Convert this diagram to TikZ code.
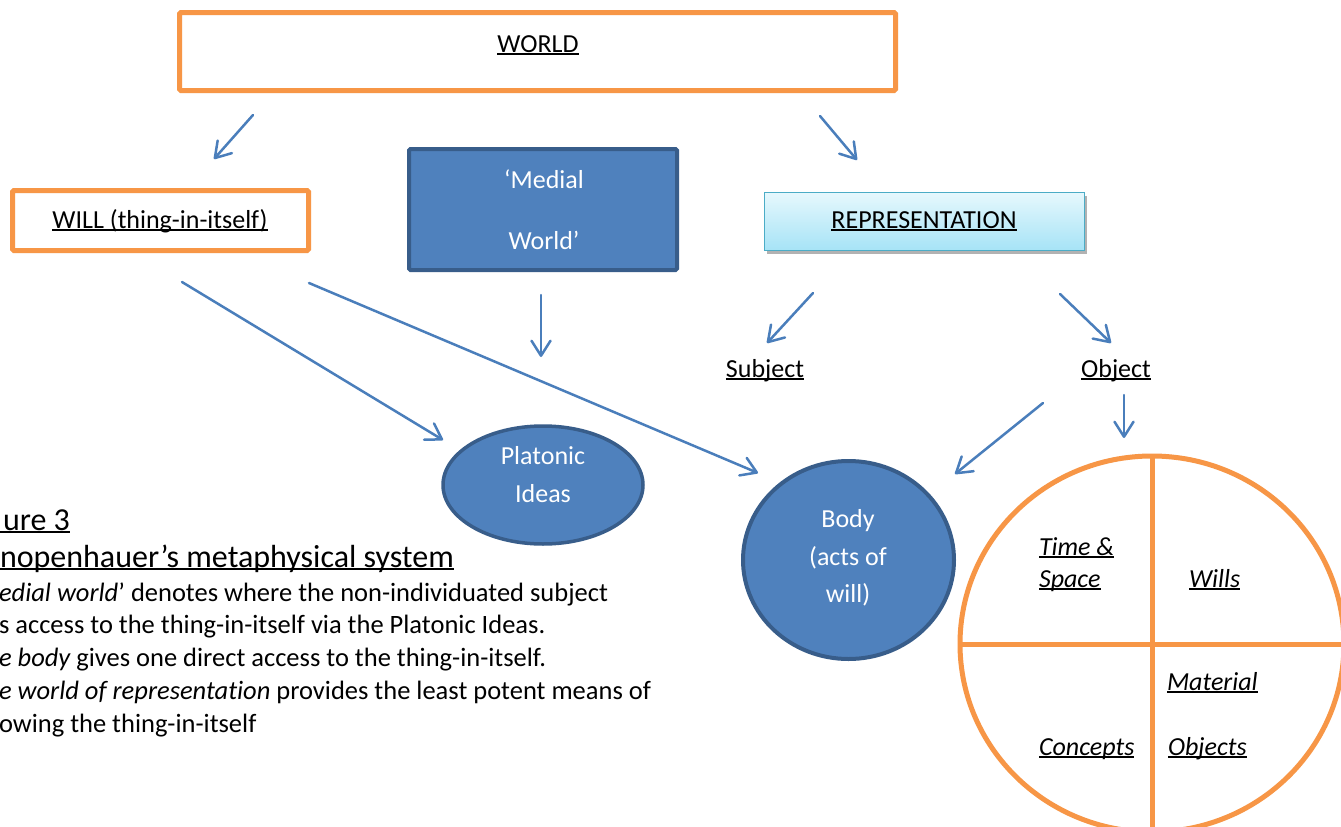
\documentclass[tikz,border=0pt]{standalone}
\usepackage{fontspec}
\setmainfont{Carlito}[Ligatures=NoCommon]
\usetikzlibrary{arrows.meta,shapes.geometric,shadows}
\definecolor{worange}{HTML}{F79646}
\definecolor{wblue}{HTML}{4F81BD}
\definecolor{wdark}{HTML}{385D8A}
\definecolor{warrow}{HTML}{4A7EBB}
\definecolor{cyanline}{HTML}{4BACC6}
\definecolor{cyantop}{HTML}{E6F8FD}
\definecolor{cyanbot}{HTML}{A6E3F6}
\newsavebox\ulbox
\newcommand{\U}[1]{\sbox\ulbox{#1}\rlap{\rule[-0.1em]{\wd\ulbox}{0.075em}}\usebox\ulbox}
\newcommand{\fs}{\fontsize{26}{32}\selectfont}
\newcommand{\fc}{\fontsize{26.5}{32}\selectfont}
\newcommand{\fb}{\fontsize{32}{38}\selectfont}
\begin{document}
\begin{tikzpicture}[x=1pt,y=-1pt,
  every node/.style={inner sep=0pt,outer sep=0pt,font=\fs},
  obox/.style={draw=worange,line width=5pt,rounded corners=1.5pt,rectangle},
  bluebox/.style={draw=wdark,fill=wblue,line width=4pt,rounded corners=1.5pt,rectangle},
  blueell/.style={draw=wdark,fill=wblue,line width=3.5pt,ellipse},
  cyanbox/.style={draw=cyanline,line width=1.3pt,rectangle,top color=cyantop,bottom color=cyanbot,
     drop shadow={shadow xshift=2pt,shadow yshift=-3pt,opacity=0.3,fill=black}},
  txt/.style={anchor=base,text=black},
  wtxt/.style={anchor=base,text=white},
  ltxt/.style={anchor=base west,text=black,font=\fc},
  itxt/.style={anchor=base west,text=black,font=\fs\itshape},
  arr/.style={draw=warrow,line width=2.5pt,line cap=round,-{Straight Barb[length=15pt,width=19pt,round]}}
]
\useasboundingbox (0,0) rectangle (1341,827);
\clip (0,0) rectangle (1341,827);
\fill[white] (0,0) rectangle (1341,827);

% boxes
\node[obox,minimum width=716,minimum height=78] (world) at (537.5,51.5) {};
\node[txt] (worldt) at (538,52) {\U{WORLD}};

\node[obox,minimum width=296,minimum height=60] (will) at (160.5,220.5) {};
\node[txt] (willt) at (160,228) {\U{WILL (thing-in-itself)}};

\node[bluebox,minimum width=268,minimum height=121] (medial) at (543,209.5) {};
\node[wtxt] (medial1) at (544,188) {‘Medial};
\node[wtxt] (medial2) at (544,249) {World’};

\node[cyanbox,minimum width=320,minimum height=58] (repr) at (924.5,221.5) {};
\node[txt] (reprt) at (924,228) {\U{REPRESENTATION}};

\node[txt] (subject) at (765,377) {\U{Subject}};
\node[txt] (object) at (1116,377) {\U{Object}};

% ellipses
\node[blueell,minimum width=200,minimum height=118] (plat) at (543,485) {};
\node[wtxt] (plat1) at (543,464) {Platonic};
\node[wtxt] (plat2) at (543,502) {Ideas};

\node[blueell,line width=4pt,minimum width=211,minimum height=198] (body) at (848.5,560) {};
\node[wtxt] (body1) at (848,527) {Body};
\node[wtxt] (body2) at (848,565) {(acts of};
\node[wtxt] (body3) at (848,602) {will)};

% quartered circle
\node[draw=worange,line width=5pt,ellipse,minimum width=384,minimum height=376] (quad) at (1152,644) {};
\draw[worange,line width=5pt] (quad.north) -- (quad.south);
\draw[worange,line width=5pt] (quad.west) -- (quad.east);
\node[itxt] (q1a) at (1039,555) {\U{Time \&}};
\node[itxt] (q1b) at (1039,587) {\U{Space}};
\node[itxt] (q2) at (1189,587) {\U{Wills}};
\node[itxt] (q3a) at (1167,690) {\U{Material}};
\node[itxt] (q3b) at (1168,755) {\U{Objects}};
\node[itxt] (q4) at (1039,755) {\U{Concepts}};

% caption text
\node[ltxt,font=\fb] (cap1) at (0,530) {\U{\hspace*{3pt}ure 3}};
\node[ltxt,font=\fb] (cap2) at (0,567) {\U{nopenhauer’s metaphysical system}};
\node[ltxt] (cap3) at (-1,601) {{\itshape edial world}’ denotes where the non-individuated subject};
\node[ltxt] (cap4) at (-1,633) {s access to the thing-in-itself via the Platonic Ideas.};
\node[ltxt] (cap5) at (-1,666) {{\itshape e body} gives one direct access to the thing-in-itself.};
\node[ltxt] (cap6) at (-1,699) {{\itshape e world of representation} provides the least potent means of};
\node[ltxt] (cap7) at (-1,732) {owing the thing-in-itself};

% arrow end points
\coordinate (a1s) at (253,115); \coordinate (a1e) at (214,159);
\coordinate (a2s) at (820,116); \coordinate (a2e) at (857,160);
\coordinate (a3s) at (182,282); \coordinate (a3e) at (443,440);
\coordinate (a4s) at (309,283); \coordinate (a4e) at (758,473);
\coordinate (a5s) at (541,295); \coordinate (a5e) at (541,357);
\coordinate (a6s) at (813,293); \coordinate (a6e) at (767,343);
\coordinate (a7s) at (1060,294); \coordinate (a7e) at (1111,343);
\coordinate (a8s) at (1043,403); \coordinate (a8e) at (955,474);
\coordinate (a9s) at (1124,395); \coordinate (a9e) at (1124,438);

\draw[arr] (a1s) -- (a1e);
\draw[arr] (a2s) -- (a2e);
\draw[arr] (a3s) -- (a3e);
\draw[arr] (a4s) -- (a4e);
\draw[arr] (a5s) -- (a5e);
\draw[arr] (a6s) -- (a6e);
\draw[arr] (a7s) -- (a7e);
\draw[arr] (a8s) -- (a8e);
\draw[arr] (a9s) -- (a9e);
\end{tikzpicture}
\end{document}
